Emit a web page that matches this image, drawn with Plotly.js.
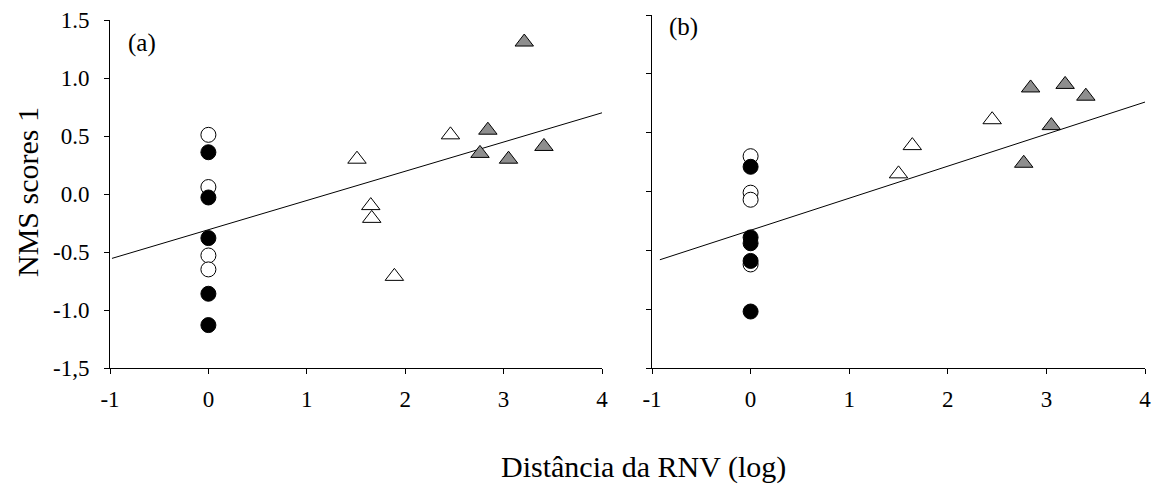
<!DOCTYPE html>
<html>
<head>
<meta charset="utf-8">
<script src="https://cdn.plot.ly/plotly-3.0.1.min.js"></script>
<style>html,body{margin:0;padding:0;background:#fff;}#chart{width:1161px;height:490px;}</style>
</head>
<body>
<div id="chart"></div>
<script>
// Panel (a)
const aOpenCircleX = [0, 0, 0, 0];
const aOpenCircleY = [0.51, 0.06, -0.53, -0.65];
const aFilledCircleX = [0, 0, 0, 0, 0];
const aFilledCircleY = [0.36, -0.03, -0.38, -0.86, -1.13];
const aOpenTriX = [1.51, 1.65, 1.66, 1.89, 2.46];
const aOpenTriY = [0.30, -0.10, -0.21, -0.71, 0.51];
const aGrayTriX = [2.84, 2.76, 3.05, 3.41, 3.21];
const aGrayTriY = [0.55, 0.35, 0.30, 0.41, 1.31];
const aLineX = [-0.98, 4.0];
const aLineY = [-0.555, 0.70];

// Panel (b)
const bOpenCircleX = [0, 0, 0, 0];
const bOpenCircleY = [0.30, -0.01, -0.07, -0.62];
const bFilledCircleX = [0, 0, 0, 0, 0];
const bFilledCircleY = [0.21, -0.39, -0.44, -0.59, -1.02];
const bOpenTriX = [1.50, 1.64, 2.45];
const bOpenTriY = [0.15, 0.39, 0.61];
const bGrayTriX = [2.77, 2.84, 3.19, 3.40, 3.05];
const bGrayTriY = [0.24, 0.88, 0.91, 0.81, 0.56];
const bLineX = [-0.92, 4.0];
const bLineY = [-0.58, 0.76];

const yTickVals = [1.5, 1.0, 0.5, 0.0, -0.5, -1.0, -1.5];
const yTickText = ['1.5', '1.0', '0.5', '0.0', '-0.5', '-1.0', '-1,5'];
const xTickVals = [-1, 0, 1, 2, 3, 4];
const xTickText = ['-1', '0', '1', '2', '3', '4'];

const FONT = 'Liberation Serif, Times New Roman, serif';
const GRAY = '#8e8e8e';

function lineTrace(x, y, xa, ya) {
  return {x: x, y: y, xaxis: xa, yaxis: ya, mode: 'lines', type: 'scatter',
    line: {color: '#000', width: 1}, hoverinfo: 'skip', showlegend: false};
}
function markTrace(x, y, xa, ya, symbol, fill, size) {
  return {x: x, y: y, xaxis: xa, yaxis: ya, mode: 'markers', type: 'scatter', showlegend: false,
    marker: {symbol: symbol, size: size, color: fill, line: {color: '#000', width: 1}}};
}

const data = [
  lineTrace(aLineX, aLineY, 'x', 'y'),
  markTrace(aOpenTriX, aOpenTriY, 'x', 'y', 'triangle-up', '#fff', 16),
  markTrace(aGrayTriX, aGrayTriY, 'x', 'y', 'triangle-up', GRAY, 16),
  markTrace(aOpenCircleX, aOpenCircleY, 'x', 'y', 'circle', '#fff', 15),
  markTrace(aFilledCircleX, aFilledCircleY, 'x', 'y', 'circle', '#000', 15),
  lineTrace(bLineX, bLineY, 'x2', 'y2'),
  markTrace(bOpenTriX, bOpenTriY, 'x2', 'y2', 'triangle-up', '#fff', 16),
  markTrace(bGrayTriX, bGrayTriY, 'x2', 'y2', 'triangle-up', GRAY, 16),
  markTrace(bOpenCircleX, bOpenCircleY, 'x2', 'y2', 'circle', '#fff', 15),
  markTrace(bFilledCircleX, bFilledCircleY, 'x2', 'y2', 'circle', '#000', 15)
];

function xAxis(domain, anchor) {
  return {domain: domain, anchor: anchor, range: [-1, 4], tickmode: 'array',
    tickvals: xTickVals, ticktext: xTickText, ticks: 'outside', ticklen: 5, tickcolor: '#000',
    showline: true, linecolor: '#000', linewidth: 1, showgrid: false, zeroline: false,
    ticklabelstandoff: 5, tickfont: {family: FONT, size: 23, color: '#000'}};
}
function yAxis(domain, anchor, labels) {
  return {domain: domain, anchor: anchor, range: [-1.5, 1.5], tickmode: 'array',
    tickvals: yTickVals, ticktext: yTickText, showticklabels: labels, ticks: 'outside', ticklen: 5,
    tickcolor: '#000', showline: true, linecolor: '#000', linewidth: 1, showgrid: false,
    zeroline: false, ticklabelstandoff: 10, tickfont: {family: FONT, size: 23, color: '#000'}};
}

function note(text, px, py, size, angle) {
  return {text: text, xref: 'paper', yref: 'paper', x: px / 1161, y: 1 - py / 490,
    xanchor: 'center', yanchor: 'middle', textangle: angle || 0, showarrow: false,
    font: {family: FONT, size: size, color: '#000'}};
}

const layout = {
  width: 1161, height: 490,
  margin: {l: 0, r: 0, t: 0, b: 0},
  paper_bgcolor: '#fff', plot_bgcolor: '#fff',
  font: {family: FONT, color: '#000'},
  xaxis: xAxis([110 / 1161, 602 / 1161], 'y'),
  yaxis: yAxis([1 - 368 / 490, 1 - 20 / 490], 'x', true),
  xaxis2: xAxis([652 / 1161, 1145 / 1161], 'y2'),
  yaxis2: yAxis([1 - 368 / 490, 1 - 15 / 490], 'x2', false),
  annotations: [
    note('(a)', 142, 43, 25),
    note('(b)', 683, 27, 25),
    note('NMS scores 1', 27, 192, 30, -90),
    note('Distância da RNV (log)', 643, 467, 30)
  ]
};

Plotly.newPlot('chart', data, layout, {staticPlot: true, displayModeBar: false});
</script>
</body>
</html>
